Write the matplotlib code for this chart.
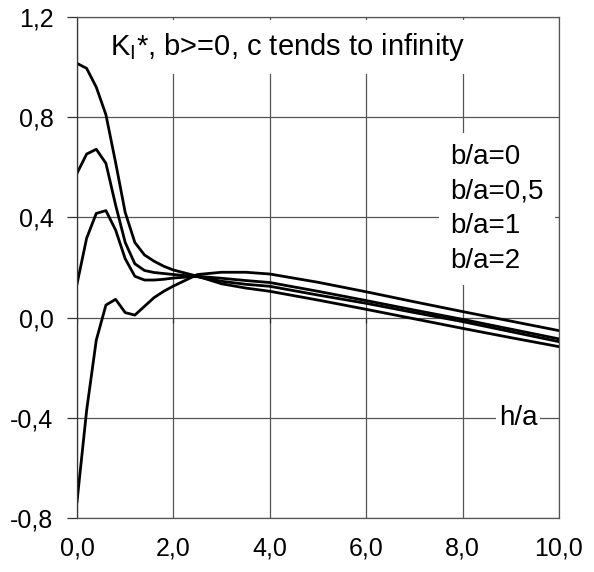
import matplotlib
matplotlib.use('Agg')
import matplotlib.pyplot as plt

plt.rcParams['font.family'] = ['Liberation Sans', 'DejaVu Sans']
plt.rcParams['mathtext.fontset'] = 'custom'
plt.rcParams['mathtext.rm'] = 'Liberation Sans'

# h/a
h = [0.0, 0.2, 0.4, 0.6, 0.8, 1.0, 1.2, 1.4, 1.6, 1.8, 2.0, 2.5, 3.0, 3.5,
     4.0, 5.0, 6.0, 7.0, 8.0, 9.0, 10.0]
# K_I* pour chaque b/a
k_b0 = [1.015, 0.995, 0.92, 0.81, 0.62, 0.42, 0.30, 0.25, 0.225, 0.205, 0.19,
        0.165, 0.135, 0.118, 0.105, 0.07, 0.033, -0.005, -0.043, -0.08, -0.116]
k_b05 = [0.576, 0.653, 0.672, 0.616, 0.45, 0.30, 0.215, 0.188, 0.18, 0.176, 0.172,
         0.163, 0.145, 0.133, 0.125, 0.09, 0.057, 0.02, -0.016, -0.056, -0.096]
k_b1 = [0.134, 0.317, 0.416, 0.427, 0.35, 0.235, 0.165, 0.15, 0.15, 0.153, 0.158,
        0.165, 0.157, 0.148, 0.14, 0.105, 0.068, 0.03, -0.007, -0.046, -0.085]
k_b2 = [-0.735, -0.37, -0.09, 0.05, 0.073, 0.02, 0.01, 0.045, 0.08, 0.105, 0.126,
        0.172, 0.181, 0.181, 0.174, 0.141, 0.103, 0.063, 0.024, -0.014, -0.052]
labels = ['b/a=0', 'b/a=0,5', 'b/a=1', 'b/a=2']

xticks = [0, 2, 4, 6, 8, 10]
xticklabels = ['0,0', '2,0', '4,0', '6,0', '8,0', '10,0']
yticks = [-0.8, -0.4, 0.0, 0.4, 0.8, 1.2]
yticklabels = ['-0,8', '-0,4', '0,0', '0,4', '0,8', '1,2']

fig = plt.figure(figsize=(5.94, 5.72), dpi=100)
ax = fig.add_axes([77/594, 1 - 518/572, 482/594, 501/572])

for y, lab in zip([k_b0, k_b05, k_b1, k_b2], labels):
    ax.plot(h, y, color='black', lw=2.0, label=lab, zorder=2)

ax.set_xlim(0, 10)
ax.set_ylim(-0.8, 1.2)
ax.set_axisbelow(True)
ax.grid(True, color='#555555', lw=0.9)
for s in ax.spines.values():
    s.set_color('#555555')
    s.set_linewidth(0.9)
ax.spines['left'].set_color('#333333')

ax.set_xticks(xticks)
ax.set_xticklabels(xticklabels)
ax.set_yticks(yticks)
ax.set_yticklabels(yticklabels)
ax.tick_params(axis='x', length=0, pad=13, labelsize=18)
ax.tick_params(axis='y', length=7, width=0.9, color='#333333', pad=10, labelsize=18)
# graduations de l'axe horizontal (qui croise en 0)
ax.vlines(xticks, -0.022, 0, color='#333333', lw=0.9, zorder=1)

ax.text(0.068, 0.94, 'K$_\\mathregular{I}$*, b>=0, c tends to infinity',
        transform=ax.transAxes, fontsize=21, va='center', ha='left',
        bbox=dict(facecolor='white', edgecolor='none', pad=8), zorder=4)
ax.text(0.955, 0.2, 'h/a', transform=ax.transAxes, fontsize=20,
        va='center', ha='right',
        bbox=dict(facecolor='white', edgecolor='none', pad=2), zorder=4)

leg = ax.legend(loc='upper left', bbox_to_anchor=(0.722, 0.797), fontsize=20,
                handlelength=0, handletextpad=0, labelspacing=0.31,
                frameon=True, fancybox=False, facecolor='white',
                edgecolor='none', framealpha=1, borderpad=0.4)
for l in leg.get_lines():
    l.set_visible(False)

fig.savefig('out.png', dpi=100)
